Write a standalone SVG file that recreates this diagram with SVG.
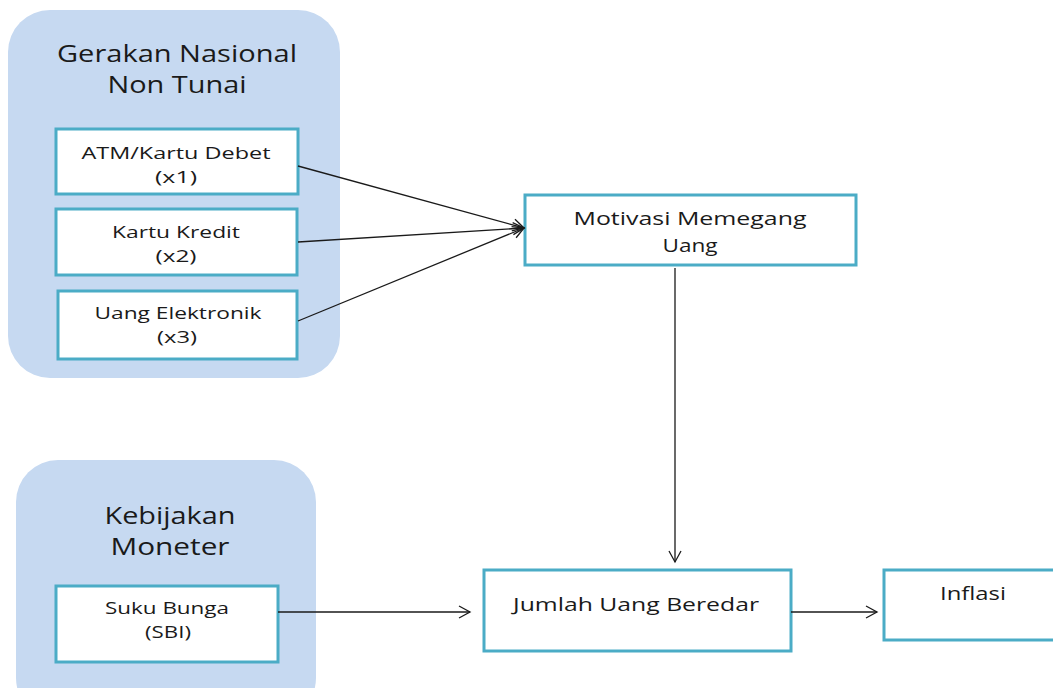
<svg xmlns="http://www.w3.org/2000/svg" width="1053" height="688" viewBox="0 0 1053 688">
<style>
.grp{fill:#c6d9f1;}
.box{fill:#ffffff;stroke:#4bacc6;stroke-width:3;}
.t{font-family:"Open Sans","Liberation Sans",sans-serif;fill:#1a1a1a;text-anchor:middle;}
.title{font-size:23px;}
.s{font-size:16px;}
.m{font-size:18.5px;}
.c{stroke:#1a1a1a;stroke-width:1.3;fill:none;}
</style>
<defs>
<marker id="arr" markerWidth="14" markerHeight="14" refX="12" refY="7" orient="auto" markerUnits="userSpaceOnUse">
<path d="M1,1 L12,7 L1,13" fill="none" stroke="#1a1a1a" stroke-width="1.3"/>
</marker>
</defs>
<g id="group-gnnt">
<rect class="grp" x="8" y="10" width="332" height="368" rx="42"/>
<text class="t title" x="177" y="62" textLength="240" lengthAdjust="spacingAndGlyphs">Gerakan Nasional</text>
<text class="t title" x="177" y="93" textLength="139" lengthAdjust="spacingAndGlyphs">Non Tunai</text>
</g>
<g id="group-kebijakan">
<rect class="grp" x="16" y="460" width="300" height="260" rx="42"/>
<text class="t title" x="170" y="524" textLength="131" lengthAdjust="spacingAndGlyphs">Kebijakan</text>
<text class="t title" x="170" y="555" textLength="119" lengthAdjust="spacingAndGlyphs">Moneter</text>
</g>
<g id="node-atm">
<rect class="box" x="56" y="129" width="242" height="65"/>
<text class="t s" x="176" y="159" textLength="189" lengthAdjust="spacingAndGlyphs">ATM/Kartu Debet</text>
<text class="t s" x="176" y="183" textLength="42" lengthAdjust="spacingAndGlyphs">(x1)</text>
</g>
<g id="node-kredit">
<rect class="box" x="56" y="209" width="241" height="66"/>
<text class="t s" x="176" y="238" textLength="128" lengthAdjust="spacingAndGlyphs">Kartu Kredit</text>
<text class="t s" x="176" y="262" textLength="41" lengthAdjust="spacingAndGlyphs">(x2)</text>
</g>
<g id="node-elektronik">
<rect class="box" x="58" y="291" width="239" height="68"/>
<text class="t s" x="178" y="319" textLength="167" lengthAdjust="spacingAndGlyphs">Uang Elektronik</text>
<text class="t s" x="177" y="343" textLength="40" lengthAdjust="spacingAndGlyphs">(x3)</text>
</g>
<g id="node-motivasi">
<rect class="box" x="525" y="195" width="331" height="70"/>
<text class="t m" x="690" y="225" textLength="233" lengthAdjust="spacingAndGlyphs">Motivasi Memegang</text>
<text class="t m" x="690" y="252" textLength="55" lengthAdjust="spacingAndGlyphs">Uang</text>
</g>
<g id="node-suku">
<rect class="box" x="56" y="586" width="222" height="76"/>
<text class="t s" x="167" y="614" textLength="124" lengthAdjust="spacingAndGlyphs">Suku Bunga</text>
<text class="t s" x="168" y="638" textLength="46" lengthAdjust="spacingAndGlyphs">(SBI)</text>
</g>
<g id="node-jub">
<rect class="box" x="484" y="570" width="307" height="81"/>
<text class="t m" x="636" y="611" textLength="246" lengthAdjust="spacingAndGlyphs">Jumlah  Uang Beredar</text>
</g>
<g id="node-inflasi">
<rect class="box" x="884" y="570" width="180" height="70"/>
<text class="t m" x="973" y="600" textLength="66" lengthAdjust="spacingAndGlyphs">Inflasi</text>
</g>
<g id="connectors">
<line class="c" x1="298" y1="166" x2="524" y2="228" marker-end="url(#arr)"/>
<line class="c" x1="298" y1="242" x2="524" y2="228" marker-end="url(#arr)"/>
<line class="c" x1="298" y1="321" x2="524" y2="228" marker-end="url(#arr)"/>
<line class="c" x1="675" y1="268" x2="675" y2="562" marker-end="url(#arr)"/>
<line class="c" x1="278" y1="612" x2="470" y2="612" marker-end="url(#arr)"/>
<line class="c" x1="791" y1="612" x2="877" y2="612" marker-end="url(#arr)"/>
</g>
</svg>
